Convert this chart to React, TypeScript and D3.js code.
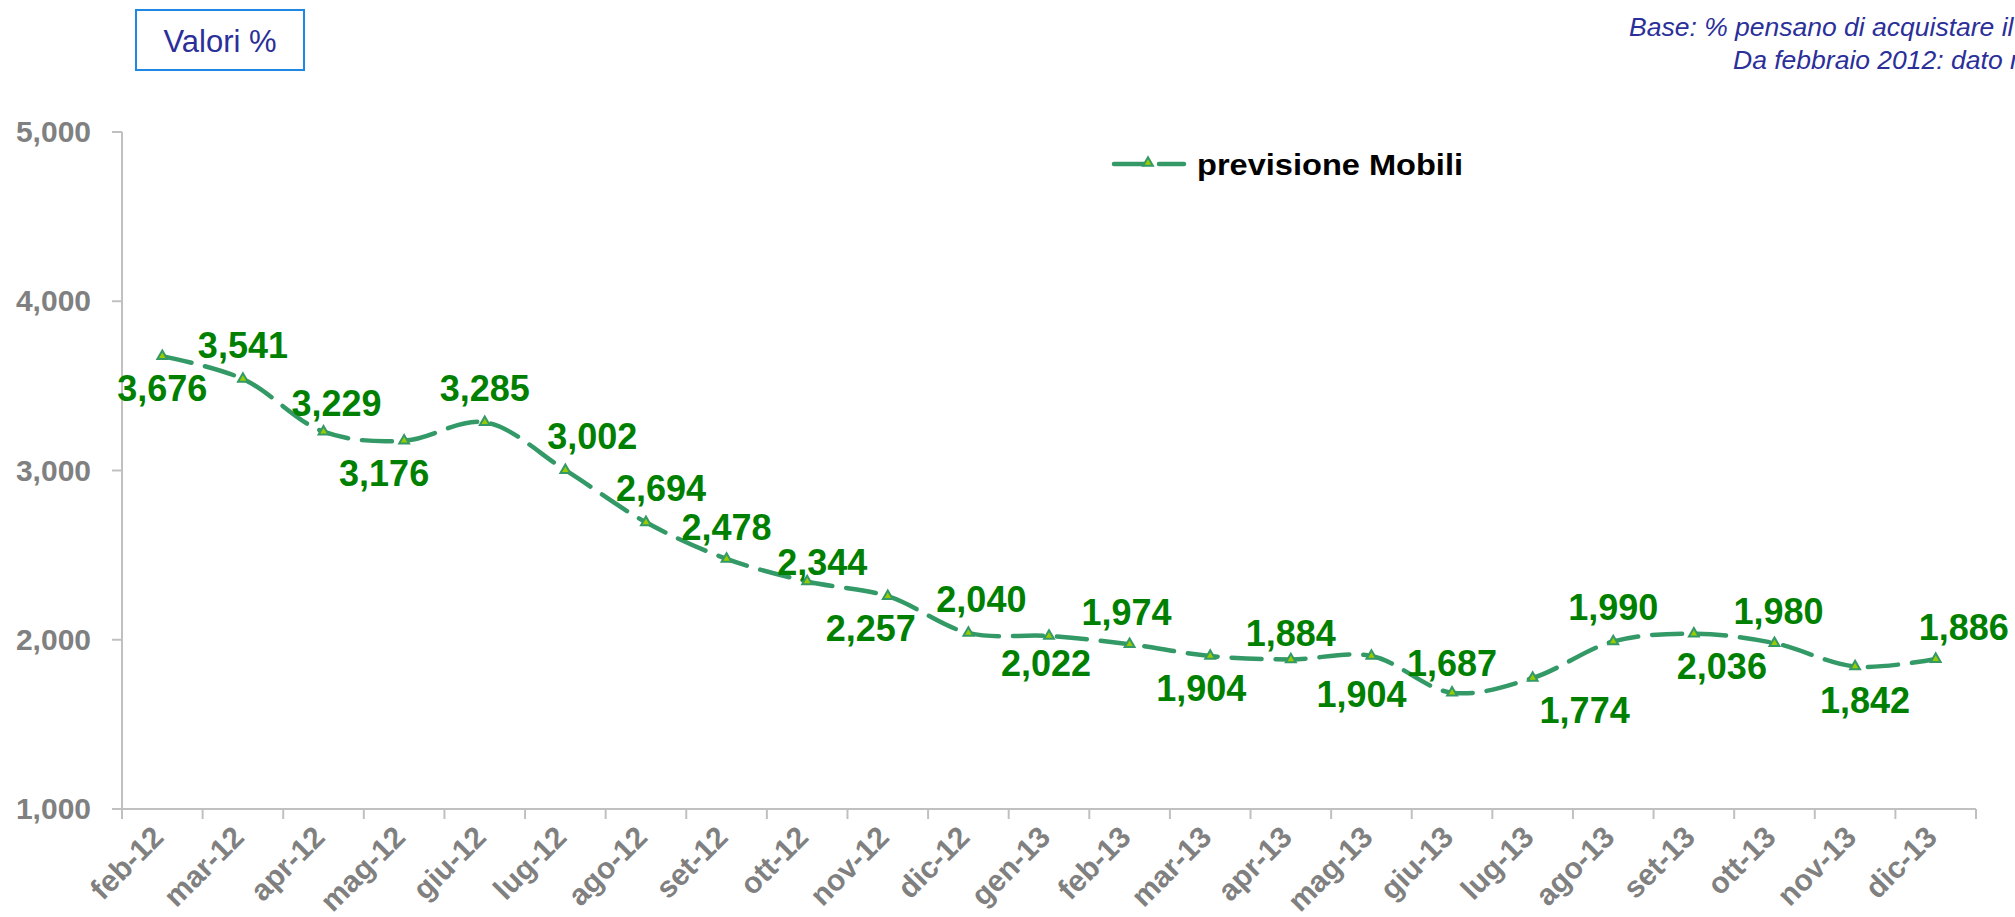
import React from "react";
import * as d3 from "d3";

const categories = ["feb-12","mar-12","apr-12","mag-12","giu-12","lug-12","ago-12","set-12","ott-12","nov-12","dic-12","gen-13","feb-13","mar-13","apr-13","mag-13","giu-13","lug-13","ago-13","set-13","ott-13","nov-13","dic-13"];
const values = [3676,3541,3229,3176,3285,3002,2694,2478,2344,2257,2040,2022,1974,1904,1884,1904,1687,1774,1990,2036,1980,1842,1886];
const yTicks = [1000,2000,3000,4000,5000];
const seriesName = "previsione Mobili";
// label placement like the source (above / below the point) and horizontal nudges
const labelSide = ["below","above","above","below","above","above","above","above","above","below","above","below","above","below","above","below","above","below","above","below","above","below","above"];
const labelDx = [0,0,13,-20,0,27,15,0,15,-17,13,-3,-3,-9,0,-10,0,52,0,28,4,10,28];
const labelDy = [0,-2,3,0,-2,-2,-2,0,12,0,-2,-5,0,0,6,6,2,0,-2,0,0,2,0];

const W = 2015, H = 917;
const left = 122, right = 1976, top = 132, bottom = 809;
const LINE = "#339966";
const LABEL = "#008000";
const AXIS = "#C0C0C0";
const TICKTXT = "#808080";
const FONT = "'Liberation Sans', Arial, sans-serif";

export default function App() {
  const x = d3.scaleBand<string>().domain(categories).range([left, right]);
  const y = d3.scaleLinear().domain([1000, 5000]).range([bottom, top]);
  const cx = (i: number) => (x(categories[i]) as number) + x.bandwidth() / 2;
  const line = d3.line<number>().x((_, i) => cx(i)).y((v) => y(v)).curve(d3.curveCatmullRom.alpha(0.5));
  const tri = d3.symbol().type(d3.symbolTriangle).size(42)();
  const boundaries = d3.range(categories.length + 1).map((i) => left + i * x.bandwidth());

  return (
    <svg width={W} height={H} style={{ position: "absolute", left: 0, top: 0, background: "#fff" }} fontFamily={FONT}>
      <rect x={0} y={0} width={W} height={H} fill="#fff" />
      {/* title box */}
      <rect x={136} y={10} width={168} height={60} fill="#fff" stroke="#1E88E5" strokeWidth={2} />
      <text x={220} y={52} textAnchor="middle" fontSize={31} fill="#2B2F99">Valori %</text>
      {/* note (cut off at the right edge, as in the source) */}
      <text x={1629} y={36} fontSize={26.5} fontStyle="italic" fill="#2B2F99">Base: % pensano di acquistare il mobile</text>
      <text x={1733} y={69} fontSize={26.5} fontStyle="italic" fill="#2B2F99">Da febbraio 2012: dato mensile</text>

      {/* y axis */}
      <line x1={left} x2={left} y1={top} y2={bottom} stroke={AXIS} strokeWidth={2} />
      {yTicks.map((t) => (
        <g key={t}>
          <line x1={left - 10} x2={left} y1={y(t)} y2={y(t)} stroke={AXIS} strokeWidth={2} />
          <text x={91} y={y(t) + 10} textAnchor="end" fontSize={30} fontWeight="bold" fill={TICKTXT}>{d3.format(",")(t)}</text>
        </g>
      ))}
      {/* x axis */}
      <line x1={left} x2={right} y1={bottom} y2={bottom} stroke={AXIS} strokeWidth={2} />
      {boundaries.map((b, i) => (
        <line key={i} x1={b} x2={b} y1={bottom} y2={bottom + 10} stroke={AXIS} strokeWidth={2} />
      ))}
      {categories.map((c, i) => (
        <text key={c} transform={`translate(${cx(i) + 3},${bottom + 30}) rotate(-45)`} textAnchor="end" fontSize={30} fontWeight="bold" fill={TICKTXT}>{c}</text>
      ))}

      {/* series */}
      <path d={line(values) || ""} fill="none" stroke={LINE} strokeWidth={4.5} strokeDasharray="30 14" strokeLinecap="round" />
      {values.map((v, i) => (
        <path key={i} d={tri} transform={`translate(${cx(i)},${y(v)})`} fill="#99CC00" stroke={LINE} strokeWidth={2} />
      ))}
      {values.map((v, i) => (
        <text key={"l" + i} x={cx(i) + labelDx[i]} y={y(v) + (labelSide[i] === "above" ? -19 : 45) + labelDy[i]} textAnchor="middle" fontSize={36} fontWeight="bold" fill={LABEL}>{d3.format(",")(v)}</text>
      ))}

      {/* legend */}
      <line x1={1114} x2={1184} y1={164} y2={164} stroke={LINE} strokeWidth={4.5} strokeDasharray="31 14" strokeLinecap="round" />
      <path d={tri} transform="translate(1148,163)" fill="#99CC00" stroke={LINE} strokeWidth={2} />
      <text x={1197} y={175} fontSize={30} fontWeight="bold" fill="#000" textLength={266} lengthAdjust="spacingAndGlyphs">{seriesName}</text>
    </svg>
  );
}
